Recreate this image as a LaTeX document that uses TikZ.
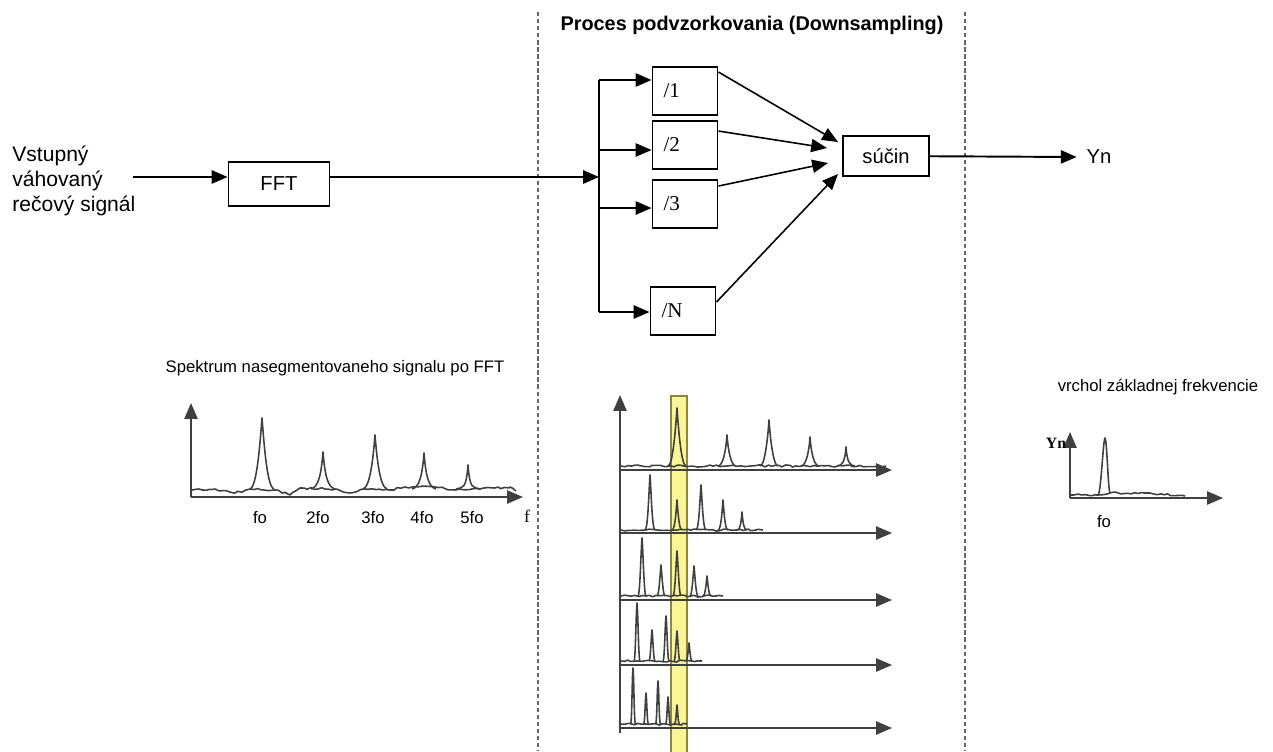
\documentclass[tikz,border=0pt]{standalone}
\usepackage{fontspec}
\setmainfont{Liberation Sans}
\newfontfamily\timesfont{Liberation Serif}
\usetikzlibrary{arrows.meta,calc,decorations.pathmorphing}
\definecolor{zlta}{RGB}{250,245,150}
\definecolor{olivova}{RGB}{140,135,60}

\begin{document}
\begin{tikzpicture}[x=0.02cm,y=-0.02cm,
  blok/.style={draw,line width=1.1pt,inner sep=0pt},
  delic/.style={blok,minimum height=0.96cm,text width=0.86cm,inner xsep=0.22cm,align=left,font=\timesfont\fontsize{12}{14}\selectfont},
  sipka/.style={line width=1.1pt,-{Triangle[length=9pt,width=7.5pt]}},
  tenka/.style={line width=0.9pt,-{Triangle[length=9pt,width=7.5pt]}},
  os/.style={line width=0.9pt,draw=black!75,-{Triangle[length=9pt,width=7.5pt]}},
  spektrum/.style={line width=0.9pt,black!75,line join=round},
  sum/.style={spektrum,decorate,decoration={random steps,segment length=2pt,amplitude=0.6pt}},
  velky/.style={font=\fontsize{11.5}{13.5}\selectfont},
  maly/.style={font=\fontsize{9.5}{11}\selectfont}]
\pgfmathsetseed{3}
\useasboundingbox (0,0) rectangle (1273,751);

% hranice bloku podvzorkovania
\draw[black!60,line width=1.1pt,dash pattern=on 2.5pt off 1.5pt] (538,12) -- (538,751);
\draw[black!60,line width=1.1pt,dash pattern=on 2.5pt off 1.5pt] (965,12) -- (965,751);
\node[font=\bfseries\fontsize{11.3}{13}\selectfont] (nadpis) at (752,25) {Proces podvzorkovania (Downsampling)};

% vstup a FFT
\node[inner sep=0,align=left,anchor=north west,font=\fontsize{12}{14.2}\selectfont] (vstup) at (12,146) {Vstupný\\váhovaný\\rečový signál};
\node[blok,velky,minimum width=2.02cm,minimum height=0.88cm] (fft) at (279,184) {FFT};
\coordinate (zac) at (133,177);
\coordinate (split) at (599,177);
\draw[sipka] (zac) -- (zac -| fft.west);
\draw[sipka] (fft.east |- split) -- (split);

% delice
\node[delic] (d1) at (685,91) {/1};
\node[delic] (d2) at (685,145) {/2};
\node[delic] (d3) at (685,204) {/3};
\node[delic] (dN) at (683,311) {/N};
\coordinate (b1) at (599,80);
\coordinate (b2) at (599,150);
\coordinate (b3) at (599,208);
\coordinate (bN) at (599,312);
\draw[line width=1.1pt] (b1) -- (bN);
\foreach \i in {1,2,3,N}
  \draw[sipka] (b\i) -- (b\i -| d\i.west);

% sucin
\node[blok,velky,minimum width=1.72cm,minimum height=0.8cm] (sucin) at (886,156) {súčin};
\coordinate (k1) at (838,142);
\coordinate (k2) at (827,148);
\coordinate (k3) at (828,163);
\coordinate (kN) at (838,174);
\draw[tenka] ($(d1.north east)+(0,6)$) -- (k1);
\draw[tenka] ($(d2.north east)+(0,11)$) -- (k2);
\draw[tenka] ($(d3.north east)+(0,7)$) -- (k3);
\draw[tenka] ($(dN.north east)+(0,16)$) -- (kN);
\node[velky,inner xsep=5.5pt] (yn) at (1099,157) {Yn};
\draw[sipka] (sucin) -- (yn.west);

% spektrum po FFT
\node[maly] (spek) at (335,368) {Spektrum nasegmentovaneho signalu po FFT};
\draw[os] (191,497) -- (191,403);
\draw[os] (191,497) -- (523,497);
\draw[sum] (192,490) -- (215,489) -- (235,493) -- (250,489) -- (275,490) -- (290,495)
  -- (300,488) -- (335,489) -- (350,493) -- (365,489) -- (390,490) -- (405,487)
  -- (435,487) -- (455,490) -- (480,489) -- (510,487) -- (516,491);
\draw[spektrum] foreach \x/\h in {262/418,323/452,375/435,424/453,468/465}
  { (\x-12,489) .. controls (\x-5,487) and (\x-2,\h+25) .. (\x,\h)
    .. controls (\x+2,\h+25) and (\x+5,487) .. (\x+12,489) };
\foreach \t/\x in {fo/260,2fo/318,3fo/373,4fo/422,5fo/472}
  \node[maly] (l\x) at (\x,518) {\t};
\node[font=\timesfont\fontsize{10}{12}\selectfont] (osf) at (527,516) {f};

% podvzorkovane spektra
\draw[fill=zlta,draw=olivova,line width=0.8pt] (671,396) rectangle (687,755);
\draw[os] (620,733) -- (620,395);
\foreach \b in {470,533,600,665,728}
  \draw[os] (620,\b) -- (892,\b);
\draw[sum] (621,466) -- (886,466);
\draw[spektrum] foreach \x/\h in {677/408,727/435,769/420,810/437,846/447}
  { (\x-9,466) .. controls (\x-4,466) and (\x-1,\h+15) .. (\x,\h)
    .. controls (\x+1,\h+15) and (\x+4,466) .. (\x+9,466) };
\draw[sum] (621,530) -- (763,530);
\draw[spektrum] foreach \x/\h in {650/475,677/500,701/485,723/500,742/512}
  { (\x-5,530) .. controls (\x-2,530) and (\x-1,\h+12) .. (\x,\h)
    .. controls (\x+1,\h+12) and (\x+2,530) .. (\x+5,530) };
\draw[sum] (621,596) -- (723,596);
\draw[spektrum] foreach \x/\h in {642/538,661/565,677/551,694/566,707/576}
  { (\x-4,596) .. controls (\x-2,596) and (\x-1,\h+10) .. (\x,\h)
    .. controls (\x+1,\h+10) and (\x+2,596) .. (\x+4,596) };
\draw[sum] (621,661) -- (702,661);
\draw[spektrum] foreach \x/\h in {637/603,652/630,666/616,677/631,689/643}
  { (\x-3,661) .. controls (\x-1.5,661) and (\x-1,\h+8) .. (\x,\h)
    .. controls (\x+1,\h+8) and (\x+1.5,661) .. (\x+3,661) };
\draw[sum] (621,724) -- (687,724);
\draw[spektrum] foreach \x/\h in {633/668,646/693,658/681,668/697,677/705}
  { (\x-2.5,724) .. controls (\x-1,724) and (\x-1,\h+8) .. (\x,\h)
    .. controls (\x+1,\h+8) and (\x+1,724) .. (\x+2.5,724) };

% vysledok
\node[maly] (vrchol) at (1158,387) {vrchol základnej frekvencie};
\draw[os] (1070,498) -- (1070,432);
\draw[os] (1070,498) -- (1223,498);
\draw[sum] (1071,495) -- (1098,495) -- (1110,493) -- (1150,493) -- (1185,496);
\draw[spektrum] (1098,495) .. controls (1101,494) and (1103,440) .. (1105,438)
  .. controls (1107,440) and (1108,490) .. (1110,493);
\node[font=\timesfont\bfseries\fontsize{9}{10}\selectfont] (osy) at (1056,443) {Yn};
\node[maly] (lfo) at (1104,522) {fo};
\end{tikzpicture}
\end{document}
